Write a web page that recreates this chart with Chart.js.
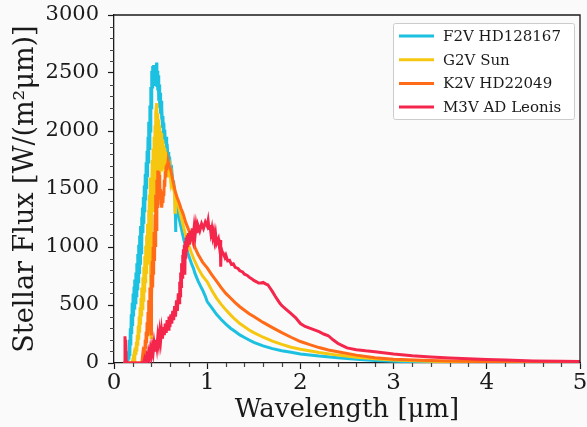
<!DOCTYPE html>
<html>
<head>
<meta charset="utf-8">
<script src="https://cdn.jsdelivr.net/npm/chart.js@4.4.1/dist/chart.umd.min.js"></script>
<style>
    html, body { margin: 0; padding: 0; background: #fafafa; }
    canvas { display: block; }
</style>
</head>
<body>
<canvas id="spectra" width="587" height="427"></canvas>
<script>
// Wavelength in micrometres, flux in W/(m^2 um)
const seriesLabels = ['F2V HD128167', 'G2V Sun', 'K2V HD22049', 'M3V AD Leonis'];
const seriesColors = ['#1cc0e0', '#f5c710', '#ff6b16', '#f4264c'];

const f2vWavelength = [0.10, 0.14, 0.15, 0.155, 0.16, 0.165, 0.17, 0.175, 0.18, 0.185, 0.19, 0.195, 0.20, 0.205, 0.21, 0.215, 0.22, 0.225, 0.23, 0.235, 0.24, 0.245, 0.25, 0.255, 0.26, 0.265, 0.27, 0.275, 0.28, 0.285, 0.29, 0.295, 0.30, 0.305, 0.31, 0.315, 0.32, 0.325, 0.33, 0.335, 0.34, 0.345, 0.35, 0.355, 0.36, 0.365, 0.37, 0.375, 0.38, 0.385, 0.39, 0.395, 0.40, 0.405, 0.41, 0.415, 0.42, 0.425, 0.43, 0.435, 0.44, 0.445, 0.45, 0.457, 0.46, 0.465, 0.47, 0.475, 0.48, 0.485, 0.49, 0.495, 0.50, 0.505, 0.51, 0.515, 0.52, 0.525, 0.53, 0.535, 0.54, 0.545, 0.55, 0.56, 0.565, 0.57, 0.58, 0.585, 0.59, 0.60, 0.61, 0.62, 0.63, 0.64, 0.65, 0.655, 0.66, 0.665, 0.67, 0.68, 0.70, 0.72, 0.75, 0.78, 0.80, 0.83, 0.85, 0.87, 0.90, 0.93, 0.95, 0.98, 1.00, 1.05, 1.10, 1.15, 1.20, 1.25, 1.30, 1.35, 1.40, 1.45, 1.50, 1.60, 1.70, 1.80, 1.90, 2.00, 2.20, 2.40, 2.60, 2.80, 3.00, 3.30, 3.60, 4.00, 4.50, 5.00];
const f2vFlux = [0, 0, 20, 100, 30, 200, 60, 300, 150, 420, 250, 520, 320, 600, 400, 660, 460, 720, 520, 780, 580, 860, 640, 940, 700, 1020, 780, 1100, 860, 1180, 950, 1260, 1030, 1340, 1120, 1430, 1200, 1530, 1300, 1630, 1400, 1730, 1500, 1830, 1600, 1950, 1720, 2080, 1850, 2220, 2000, 2380, 2200, 2520, 2380, 2560, 2420, 2570, 2440, 2540, 2400, 2560, 2430, 2590, 2380, 2520, 2350, 2480, 2260, 2400, 2200, 2330, 2150, 2260, 2100, 2200, 2040, 2130, 1990, 2070, 1940, 2010, 1890, 1950, 1840, 1890, 1760, 1820, 1720, 1740, 1640, 1660, 1560, 1560, 1460, 1440, 1130, 1400, 1360, 1320, 1240, 1170, 1060, 980, 930, 860, 820, 770, 710, 660, 630, 575, 530, 475, 420, 375, 335, 300, 272, 242, 220, 198, 178, 148, 124, 106, 92, 78, 60, 46, 32, 22, 15, 9, 6, 3, 2, 1];

const g2vWavelength = [0.10, 0.19, 0.20, 0.21, 0.215, 0.22, 0.225, 0.23, 0.235, 0.24, 0.245, 0.25, 0.255, 0.26, 0.265, 0.27, 0.275, 0.28, 0.285, 0.29, 0.295, 0.30, 0.305, 0.31, 0.315, 0.32, 0.325, 0.33, 0.335, 0.34, 0.345, 0.35, 0.355, 0.36, 0.365, 0.37, 0.375, 0.38, 0.385, 0.39, 0.393, 0.397, 0.40, 0.405, 0.41, 0.415, 0.42, 0.425, 0.43, 0.435, 0.44, 0.445, 0.45, 0.457, 0.46, 0.465, 0.47, 0.475, 0.48, 0.485, 0.49, 0.495, 0.50, 0.505, 0.51, 0.515, 0.52, 0.525, 0.53, 0.535, 0.54, 0.545, 0.55, 0.555, 0.56, 0.565, 0.57, 0.575, 0.58, 0.585, 0.59, 0.60, 0.61, 0.62, 0.63, 0.64, 0.65, 0.655, 0.66, 0.68, 0.70, 0.72, 0.75, 0.78, 0.80, 0.83, 0.86, 0.90, 0.95, 1.00, 1.05, 1.10, 1.15, 1.20, 1.25, 1.30, 1.35, 1.40, 1.45, 1.50, 1.60, 1.70, 1.80, 1.90, 2.00, 2.20, 2.40, 2.60, 2.80, 3.00, 3.30, 3.60, 4.00, 4.50, 5.00];
const g2vFlux = [0, 0, 20, 60, 20, 90, 40, 130, 70, 180, 100, 240, 150, 320, 200, 400, 260, 480, 330, 560, 400, 650, 470, 740, 540, 830, 620, 920, 700, 1010, 780, 1100, 860, 1200, 950, 1320, 1050, 1450, 1150, 1600, 250, 220, 1500, 1250, 1750, 1400, 1850, 1300, 1950, 1450, 2050, 1550, 2150, 2240, 1650, 2150, 1700, 2100, 1700, 2050, 1600, 2000, 1700, 1980, 1650, 1950, 1700, 1920, 1680, 1880, 1700, 1850, 1650, 1820, 1680, 1780, 1620, 1750, 1640, 1710, 1600, 1660, 1560, 1600, 1520, 1530, 1450, 1300, 1460, 1400, 1330, 1260, 1160, 1070, 1020, 950, 890, 820, 750, 700, 625, 560, 505, 458, 415, 375, 340, 312, 285, 262, 222, 188, 160, 136, 118, 90, 68, 50, 36, 26, 17, 11, 7, 4, 2];

const k2vWavelength = [0.10, 0.29, 0.30, 0.305, 0.31, 0.315, 0.32, 0.325, 0.33, 0.335, 0.34, 0.345, 0.35, 0.355, 0.36, 0.365, 0.37, 0.375, 0.38, 0.385, 0.39, 0.393, 0.397, 0.40, 0.405, 0.41, 0.415, 0.42, 0.425, 0.43, 0.435, 0.44, 0.445, 0.45, 0.455, 0.46, 0.465, 0.47, 0.475, 0.48, 0.485, 0.49, 0.495, 0.50, 0.505, 0.51, 0.515, 0.52, 0.525, 0.53, 0.535, 0.54, 0.545, 0.55, 0.555, 0.56, 0.565, 0.57, 0.575, 0.58, 0.585, 0.59, 0.60, 0.61, 0.62, 0.64, 0.66, 0.68, 0.70, 0.72, 0.74, 0.77, 0.80, 0.83, 0.86, 0.90, 0.95, 1.00, 1.05, 1.10, 1.15, 1.20, 1.25, 1.30, 1.35, 1.40, 1.45, 1.50, 1.60, 1.70, 1.80, 1.90, 2.00, 2.10, 2.20, 2.30, 2.40, 2.60, 2.80, 3.00, 3.30, 3.60, 4.00, 4.50, 5.00];
const k2vFlux = [0, 0, 15, 50, 20, 90, 50, 140, 80, 200, 120, 270, 170, 350, 230, 440, 300, 540, 380, 650, 470, 300, 250, 760, 560, 880, 650, 1000, 760, 1130, 880, 1280, 1000, 1450, 1150, 1580, 1350, 1660, 1480, 1650, 1500, 1620, 1420, 1500, 1370, 1420, 1340, 1430, 1380, 1480, 1440, 1580, 1520, 1650, 1600, 1700, 1660, 1720, 1690, 1735, 1700, 1720, 1680, 1660, 1620, 1540, 1470, 1420, 1380, 1330, 1290, 1210, 1150, 1080, 1010, 940, 870, 820, 760, 705, 650, 600, 560, 520, 485, 455, 425, 400, 350, 305, 262, 222, 185, 158, 133, 112, 97, 68, 46, 33, 24, 18, 12, 8, 6];

const m3vWavelength = [0.10, 0.115, 0.118, 0.122, 0.125, 0.13, 0.14, 0.30, 0.32, 0.33, 0.34, 0.35, 0.36, 0.37, 0.38, 0.39, 0.40, 0.41, 0.42, 0.43, 0.44, 0.45, 0.46, 0.47, 0.48, 0.49, 0.50, 0.51, 0.52, 0.53, 0.54, 0.55, 0.56, 0.57, 0.58, 0.59, 0.60, 0.61, 0.62, 0.63, 0.64, 0.65, 0.66, 0.67, 0.68, 0.69, 0.70, 0.705, 0.71, 0.715, 0.72, 0.725, 0.73, 0.735, 0.74, 0.745, 0.75, 0.755, 0.76, 0.765, 0.77, 0.775, 0.78, 0.785, 0.79, 0.80, 0.81, 0.82, 0.83, 0.84, 0.85, 0.86, 0.87, 0.88, 0.89, 0.90, 0.92, 0.94, 0.96, 0.98, 1.00, 1.01, 1.02, 1.03, 1.04, 1.05, 1.06, 1.07, 1.08, 1.09, 1.10, 1.12, 1.13, 1.14, 1.145, 1.15, 1.16, 1.17, 1.19, 1.20, 1.22, 1.24, 1.26, 1.28, 1.30, 1.33, 1.35, 1.38, 1.40, 1.43, 1.45, 1.48, 1.50, 1.53, 1.55, 1.58, 1.60, 1.63, 1.65, 1.68, 1.70, 1.73, 1.75, 1.78, 1.80, 1.85, 1.90, 1.95, 2.00, 2.05, 2.10, 2.15, 2.20, 2.25, 2.30, 2.35, 2.40, 2.45, 2.50, 2.60, 2.70, 2.80, 3.00, 3.20, 3.40, 3.60, 3.80, 4.00, 4.20, 4.50, 4.80, 5.00];
const m3vFlux = [0, 0, 230, 60, 200, 20, 0, 0, 10, 40, 15, 60, 30, 90, 50, 120, 70, 140, 90, 170, 110, 200, 140, 230, 170, 260, 190, 280, 210, 310, 240, 340, 260, 370, 290, 400, 310, 420, 340, 450, 370, 490, 400, 540, 450, 600, 520, 700, 580, 780, 660, 860, 740, 930, 800, 980, 850, 1020, 760, 1050, 900, 1080, 960, 1100, 1000, 1120, 1020, 1140, 1050, 1160, 1090, 1170, 1100, 1180, 1120, 1190, 1140, 1200, 1160, 1215, 1180, 1225, 1160, 1190, 1120, 1160, 1090, 1130, 1060, 1110, 1030, 1070, 1010, 1060, 830, 990, 960, 950, 910, 930, 880, 885, 850, 855, 825, 815, 795, 785, 765, 755, 740, 725, 712, 700, 690, 690, 695, 680, 675, 640, 615, 575, 550, 515, 495, 460, 425, 390, 340, 315, 300, 285, 270, 250, 235, 200, 170, 150, 130, 115, 105, 97, 78, 63, 52, 43, 36, 31, 25, 18, 15, 14];

const xTicksMajor = [0, 1, 2, 3, 4, 5];
const yTicksMajor = [0, 500, 1000, 1500, 2000, 2500, 3000];

const axisFont = 'DejaVu Serif';
const axisColor = '#1a1a1a';

function toPoints(wl, flux) {
    return wl.map((w, i) => ({ x: w, y: flux[i] }));
}

const seriesData = [
    toPoints(f2vWavelength, f2vFlux),
    toPoints(g2vWavelength, g2vFlux),
    toPoints(k2vWavelength, k2vFlux),
    toPoints(m3vWavelength, m3vFlux)
];

// matplotlib draws later series on top; in Chart.js lower order is on top
const datasets = seriesData.map((pts, i) => ({
    label: seriesLabels[i],
    data: pts,
    borderColor: seriesColors[i],
    backgroundColor: seriesColors[i],
    borderWidth: 3,
    pointRadius: 0,
    tension: 0,
    order: seriesLabels.length - i
}));

// top/right spines and minor ticks
const framePlugin = {
    id: 'frame',
    afterDraw(chart) {
        const { ctx, chartArea: a, scales } = chart;
        ctx.save();
        ctx.strokeStyle = axisColor;
        ctx.lineWidth = 1.3;
        ctx.beginPath();
        ctx.moveTo(a.left, a.top);
        ctx.lineTo(a.right, a.top);
        ctx.lineTo(a.right, a.bottom);
        ctx.stroke();

        ctx.lineWidth = 1.2;
        ctx.strokeStyle = '#444444';
        ctx.beginPath();
        for (let k = 1; k < 25; k++) {
            if (k % 5 === 0) continue;
            const px = Math.round(scales.x.getPixelForValue(k * 0.2)) + 0.5;
            ctx.moveTo(px, a.bottom);
            ctx.lineTo(px, a.bottom + 4);
        }
        for (let v = 100; v < 3000; v += 100) {
            if (v % 500 === 0) continue;
            const py = Math.round(scales.y.getPixelForValue(v)) + 0.5;
            ctx.moveTo(a.left, py);
            ctx.lineTo(a.left - 4, py);
        }
        ctx.stroke();
        ctx.restore();
    }
};

const legendBoxPlugin = {
    id: 'legendBox',
    afterDraw(chart) {
        const ctx = chart.ctx;
        const box = { left: 393, top: 23, width: 181, height: 96 };
        ctx.save();
        ctx.fillStyle = 'rgba(255,255,255,0.85)';
        ctx.strokeStyle = '#cccccc';
        ctx.lineWidth = 1;
        ctx.beginPath();
        ctx.roundRect(box.left + 0.5, box.top + 0.5, box.width, box.height, 2);
        ctx.fill();
        ctx.stroke();

        ctx.font = '15px "' + axisFont + '"';
        ctx.textBaseline = 'middle';
        ctx.fillStyle = axisColor;
        chart.data.datasets.forEach((ds, i) => {
            const y = box.top + 13 + i * 23.7;
            ctx.strokeStyle = ds.borderColor;
            ctx.lineWidth = 3;
            ctx.beginPath();
            ctx.moveTo(box.left + 6, y);
            ctx.lineTo(box.left + 41, y);
            ctx.stroke();
            ctx.fillText(ds.label, box.left + 50, y + 1);
        });
        ctx.restore();
    }
};

const bgPlugin = {
    id: 'bg',
    beforeDraw(chart) {
        const ctx = chart.ctx;
        ctx.save();
        ctx.fillStyle = '#fafafa';
        ctx.fillRect(0, 0, chart.width, chart.height);
        ctx.restore();
    }
};

new Chart(document.getElementById('spectra'), {
    type: 'line',
    data: { datasets: datasets },
    plugins: [bgPlugin, framePlugin, legendBoxPlugin],
    options: {
        responsive: false,
        animation: false,
        devicePixelRatio: 1,
        layout: { padding: { top: 15, right: 7, left: 0, bottom: 0 } },
        plugins: {
            legend: { display: false },
            tooltip: { enabled: false }
        },
        scales: {
            x: {
                type: 'linear',
                min: 0,
                max: 5,
                afterBuildTicks: scale => { scale.ticks = xTicksMajor.map(v => ({ value: v })); },
                afterFit: scale => {
                    scale.height = 64;
                    scale.paddingLeft = 0;
                    scale.paddingRight = 0;
                },
                ticks: {
                    font: { family: axisFont, size: 23 },
                    color: axisColor,
                    padding: 0,
                    maxRotation: 0,
                    callback: value => String(value)
                },
                grid: { drawOnChartArea: false, tickLength: 6, color: axisColor, tickWidth: 1.2 },
                border: { display: true, color: axisColor, width: 1.3 },
                title: {
                    display: true,
                    text: 'Wavelength [μm]',
                    font: { family: axisFont, size: 26 },
                    color: axisColor,
                    padding: { top: 0, bottom: 1 }
                }
            },
            y: {
                type: 'linear',
                min: 0,
                max: 3000,
                afterBuildTicks: scale => { scale.ticks = yTicksMajor.map(v => ({ value: v })); },
                afterFit: scale => {
                    scale.width = 114;
                    scale.paddingTop = 0;
                    scale.paddingBottom = 0;
                },
                ticks: {
                    font: { family: axisFont, size: 21 },
                    color: axisColor,
                    padding: 9,
                    callback: value => String(value)
                },
                grid: { drawOnChartArea: false, tickLength: 6, color: axisColor, tickWidth: 1.2 },
                border: { display: true, color: axisColor, width: 1.3 },
                title: {
                    display: true,
                    text: 'Stellar Flux [W/(m²μm)]',
                    font: { family: axisFont, size: 27 },
                    color: axisColor,
                    padding: { top: 10, bottom: 0 }
                }
            }
        }
    }
});
</script>
</body>
</html>
